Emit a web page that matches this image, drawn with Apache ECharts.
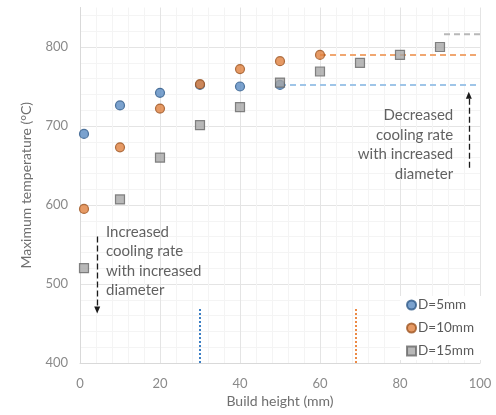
<!DOCTYPE html>
<html>
<head>
<meta charset="utf-8">
<script src="https://cdn.jsdelivr.net/npm/echarts/dist/echarts.min.js"></script>
<style>
  html, body { margin: 0; padding: 0; background: #fff; }
  #chart { width: 496px; height: 415px; }
</style>
</head>
<body>
<div id="chart"></div>
<script>
// Peak temperature per build height for three wall diameters
const seriesNames = ['D=5mm', 'D=10mm', 'D=15mm'];
const heights5 = [1, 10, 20, 30, 40, 50];
const temps5 = [690, 726, 742, 752, 750, 752];
const heights10 = [1, 10, 20, 30, 40, 50, 60];
const temps10 = [595, 673, 722, 753, 772, 782, 790];
const heights15 = [1, 10, 20, 30, 40, 50, 60, 70, 80, 90];
const temps15 = [520, 607, 660, 701, 724, 755, 769, 780, 790, 800];

// Steady-state plateaus (start height, temperature), each runs to the end of the axis
const plateauStart = [50, 60, 91];
const plateauTemp = [752, 790, 816];
const plateauEnd = 100;

// Heights where each diameter reaches steady state
const steadyHeights = [30, 69];
const steadyRange = [400, 470];

// Trend arrows: [x, from, to]
const arrowDown = [4.3, 560, 467];
const arrowUp = [97.2, 647, 739];

// Annotation anchors: [x, y]
const noteLeftPos = [6.5, 578];
const noteRightPos = [93.3, 726];
const noteLeft = 'Increased\ncooling rate\nwith increased\ndiameter';
const noteRight = 'Decreased\ncooling rate\nwith increased\ndiameter';

const FONT = 'Lato, "Open Sans", sans-serif';
const markColors = ['#5a8bc2', '#e0813f', '#a6a6a6'];
const markBorders = ['#2f5a88', '#9c5420', '#686868'];
const plateauColors = ['#9fc5e8', '#f0a771', '#b8b8b8'];
const steadyColors = ['#3d7fc4', '#ec8a45'];

const zip = (xs, ys) => xs.map((x, i) => [x, ys[i]]);

const pointSeries = [
  [heights5, temps5, 'circle'],
  [heights10, temps10, 'circle'],
  [heights15, temps15, 'rect']
].map(([xs, ys, sym], i) => ({
  name: seriesNames[i],
  type: 'scatter',
  data: zip(xs, ys),
  symbol: sym,
  symbolSize: 9,
  itemStyle: { color: markColors[i], borderColor: markBorders[i], borderWidth: 1.2 },
  z: 5 + i
}));

const plateauSeries = plateauStart.map((s, i) => ({
  type: 'line',
  data: [[s, plateauTemp[i]], [plateauEnd, plateauTemp[i]]],
  symbol: 'none',
  silent: true,
  lineStyle: { color: plateauColors[i], width: 2, type: [6, 4] },
  z: 3
}));

const steadySeries = steadyHeights.map((h, i) => ({
  type: 'line',
  data: [[h, steadyRange[0]], [h, steadyRange[1]]],
  symbol: 'none',
  silent: true,
  lineStyle: { color: steadyColors[i], width: 2, type: [2, 2] },
  z: 3
}));

const arrowSeries = [arrowDown, arrowUp].map(a => ({
  type: 'line',
  data: [],
  silent: true,
  markLine: {
    silent: true,
    symbol: ['none', 'triangle'],
    symbolSize: [6, 7],
    label: { show: false },
    lineStyle: { color: '#1a1a1a', width: 1.3, type: [6, 3] },
    data: [[{ coord: [a[0], a[1]] }, { coord: [a[0], a[2]] }]]
  }
}));

const noteSeries = [
  [noteLeftPos, noteLeft, 'left'],
  [noteRightPos, noteRight, 'right']
].map(([pos, text, align]) => ({
  type: 'scatter',
  data: [pos],
  symbolSize: 0,
  silent: true,
  label: {
    show: true,
    position: [0, 0],
    align: align,
    verticalAlign: 'top',
    formatter: () => text,
    fontFamily: FONT,
    fontSize: 15,
    lineHeight: 19.5,
    color: '#3a3a3a'
  }
}));

const chart = echarts.init(document.getElementById('chart'), null, { renderer: 'canvas' });
chart.setOption({
  animation: false,
  backgroundColor: '#fff',
  textStyle: { fontFamily: FONT },
  grid: { left: 80, right: 16, top: 7.5, bottom: 52, containLabel: false },
  xAxis: {
    type: 'value',
    min: 0, max: 100, interval: 20,
    name: 'Build height (mm)',
    nameLocation: 'middle',
    nameGap: 31,
    nameTextStyle: { fontFamily: FONT, fontSize: 14, color: '#6f6f6f' },
    axisLine: { show: true, lineStyle: { color: '#d9d9d9' } },
    axisTick: { show: false },
    axisLabel: { fontFamily: FONT, fontSize: 13, color: '#8a8a8a', margin: 14 },
    splitLine: { show: true, lineStyle: { color: '#e4e4e4' } },
    minorTick: { show: false, splitNumber: 5 },
    minorSplitLine: { show: true, lineStyle: { color: '#f4f4f4' } }
  },
  yAxis: {
    type: 'value',
    min: 400, max: 850, interval: 100,
    name: 'Maximum temperature (°C)',
    nameLocation: 'middle',
    nameGap: 47,
    nameTextStyle: { fontFamily: FONT, fontSize: 14, color: '#6f6f6f' },
    axisLine: { show: true, lineStyle: { color: '#d9d9d9' } },
    axisTick: { show: false },
    axisLabel: { fontFamily: FONT, fontSize: 13, color: '#8a8a8a', margin: 12, showMaxLabel: false },
    splitLine: { show: true, showMaxLine: false, lineStyle: { color: '#e4e4e4' } },
    minorTick: { show: false, splitNumber: 5 },
    minorSplitLine: { show: true, lineStyle: { color: '#f4f4f4' } }
  },
  legend: {
    data: seriesNames,
    orient: 'vertical',
    right: 14,
    top: 296,
    itemGap: 9,
    itemWidth: 9,
    itemHeight: 9,
    padding: [2, 8, 2, 6],
    backgroundColor: '#fff',
    textStyle: { fontFamily: FONT, fontSize: 13.5, color: '#5a5a5a', padding: [0, 0, 0, -3] }
  },
  series: [...plateauSeries, ...steadySeries, ...arrowSeries, ...noteSeries, ...pointSeries]
});
</script>
</body>
</html>
